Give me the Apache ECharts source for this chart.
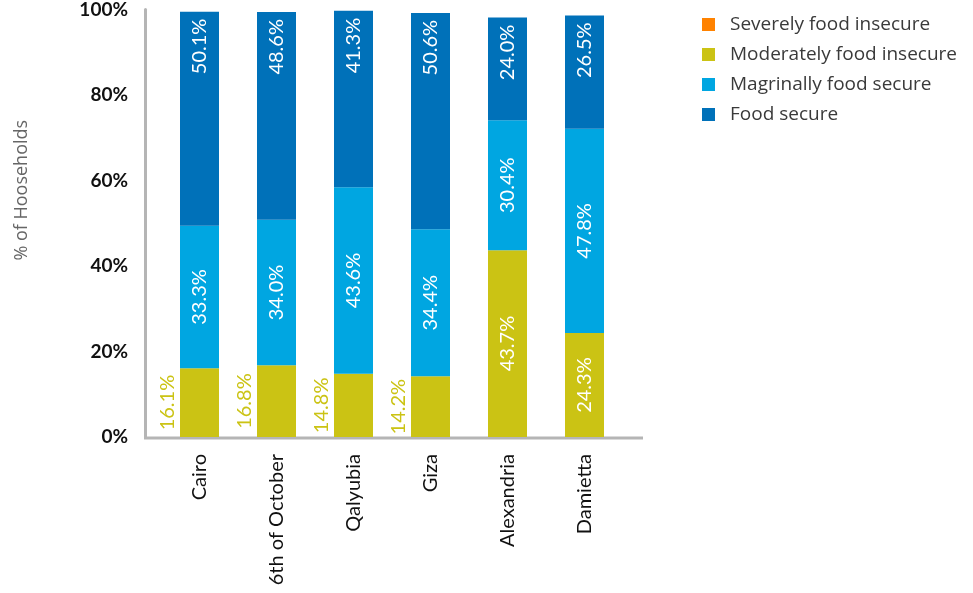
<!DOCTYPE html>
<html>
<head>
<meta charset="utf-8">
<script src="https://cdn.jsdelivr.net/npm/echarts@6/dist/echarts.min.js"></script>
<style>
  html, body { margin: 0; padding: 0; background: #fff; }
  #chart { width: 973px; height: 593px; }
</style>
</head>
<body>
<div id="chart"></div>
<script>
var regions = ['Cairo', '6th of October', 'Qalyubia', 'Giza', 'Alexandria', 'Damietta'];
var severe = [0, 0, 0, 0, 0, 0];
var moderate = [16.1, 16.8, 14.8, 14.2, 43.7, 24.3];
var marginal = [33.3, 34.0, 43.6, 34.4, 30.4, 47.8];
var secure = [50.1, 48.6, 41.3, 50.6, 24.0, 26.5];
var yTicks = [0, 20, 40, 60, 80, 100];

var colors = ['#ff8200', '#cbc314', '#00a6e1', '#0071b9'];
var font = 'Lato';

// small olive segments get their label outside, to the left of the bar
function moderateData() {
    return moderate.map(function (v) {
        if (v >= 20) return v;
        return {
            value: v,
            label: {
                position: 'left',
                distance: 2,
                align: 'center',
                verticalAlign: 'bottom',
                color: colors[1]
            }
        };
    });
}

var barLabel = {
    show: true,
    rotate: 90,
    color: '#fff',
    fontFamily: font,
    fontSize: 20,
    formatter: function (p) { return p.value.toFixed(1) + '%'; }
};

var myChart = echarts.init(document.getElementById('chart'));
myChart.setOption({
    animation: false,
    textStyle: { fontFamily: font },
    color: colors,
    grid: { left: 161, right: 350, top: 8, bottom: 156 },
    legend: {
        orient: 'vertical',
        left: 697,
        top: 10,
        itemWidth: 13,
        itemHeight: 13,
        itemGap: 11,
        icon: 'rect',
        data: ['Severely food insecure', 'Moderately food insecure', 'Magrinally food secure', 'Food secure'],
        textStyle: { fontSize: 19, lineHeight: 18, color: '#3a3a3a', fontFamily: 'Open Sans', padding: [0, 0, 0, 10] }
    },
    xAxis: {
        type: 'category',
        data: regions,
        axisLine: { show: false },
        axisTick: { show: false },
        axisLabel: { rotate: 90, margin: 17, fontSize: 20, color: '#111', fontFamily: font }
    },
    yAxis: {
        type: 'value',
        min: yTicks[0],
        max: yTicks[yTicks.length - 1],
        interval: 20,
        offset: 16,
        name: '% of Hooseholds',
        nameLocation: 'middle',
        nameGap: 114,
        nameTextStyle: { fontSize: 18, color: '#666', fontFamily: 'Open Sans', padding: [0, 0, 0, 66] },
        axisLine: { show: true, lineStyle: { color: '#b5b5b5', width: 3 } },
        axisTick: { show: false },
        splitLine: { show: false },
        axisLabel: {
            margin: 17,
            fontSize: 19,
            fontWeight: 'bold',
            color: '#111',
            fontFamily: font,
            formatter: '{value}%'
        }
    },
    graphic: [{
        type: 'line',
        shape: { x1: 144, y1: 438, x2: 643, y2: 438 },
        style: { stroke: '#b5b5b5', lineWidth: 3 }
    }],
    series: [
        {
            name: 'Severely food insecure', type: 'bar', stack: 'total', barWidth: 39,
            data: severe
        },
        {
            name: 'Moderately food insecure', type: 'bar', stack: 'total', barWidth: 39,
            label: Object.assign({}, barLabel, { position: 'inside' }),
            data: moderateData()
        },
        {
            name: 'Magrinally food secure', type: 'bar', stack: 'total', barWidth: 39,
            label: Object.assign({}, barLabel, { position: 'inside' }),
            data: marginal
        },
        {
            name: 'Food secure', type: 'bar', stack: 'total', barWidth: 39,
            label: Object.assign({}, barLabel, { position: 'insideTop', distance: 7, align: 'right', verticalAlign: 'middle' }),
            data: secure
        }
    ]
});
</script>
</body>
</html>
